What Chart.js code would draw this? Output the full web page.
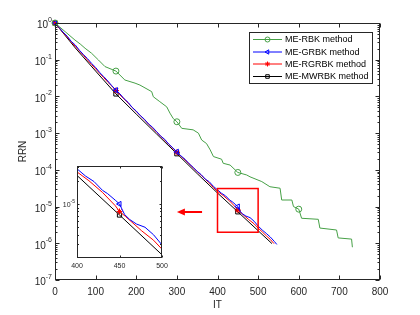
<!DOCTYPE html>
<html>
<head>
<meta charset="utf-8">
<script src="https://cdn.jsdelivr.net/npm/chart.js@4.4.1/dist/chart.umd.min.js"></script>
<style>
body { margin: 0; background: #fff; }
#wrap { position: relative; width: 420px; height: 315px; }
#main { position: absolute; left: 0; top: 0; }
#inset { position: absolute; left: 60px; top: 160px; }
</style>
</head>
<body>
<div id="wrap">
  <canvas id="main" width="420" height="315"></canvas>
  <canvas id="inset" width="110" height="115"></canvas>
</div>
<script>
// data (IT vs RRN)
const rbkIt = [0, 25, 49, 62, 74, 90, 107, 123, 150, 172, 197, 209, 238, 242, 258, 275, 283, 291, 300, 312, 340, 353, 361, 373, 382, 390, 410, 414, 431, 450, 472, 480, 509, 529, 554, 558, 583, 587, 600, 607, 648, 652, 693, 697, 730, 732]
const rbkRRN = [1, 0.58, 0.344, 0.268, 0.205, 0.150, 0.098, 0.065, 0.049, 0.028, 0.023, 0.0204, 0.0135, 0.0098, 0.0072, 0.0052, 0.0035, 0.0025, 0.00204, 0.00135, 0.00123, 0.00100, 0.00065, 0.00052, 0.00035, 0.00023, 1.95e-4, 1.51e-4, 1.35e-4, 8.5e-5, 7.24e-5, 6.46e-5, 4.79e-5, 3.47e-5, 3.16e-5, 1.51e-5, 1.51e-5, 1.0e-5, 8.5e-6, 4.8e-6, 4.5e-6, 2.6e-6, 2.3e-6, 1.4e-6, 1.3e-6, 7.8e-7]

const grbkIt = [0, 10, 20, 30, 40, 50, 60, 70, 80, 90, 100, 110, 120, 130, 140, 150, 160, 170, 180, 190, 200, 210, 220, 230, 240, 250, 260, 270, 280, 290, 300, 310, 320, 330, 340, 350, 360, 370, 380, 390, 400, 410, 420, 430, 436, 445, 450, 456, 462, 470, 480, 490, 500, 510, 520, 530, 540, 546]
const grbkRRN = [1, 0.759, 0.562, 0.437, 0.316, 0.251, 0.182, 0.138, 0.107, 0.0794, 0.0617, 0.0447, 0.0347, 0.0263, 0.0195, 0.0148, 0.0117, 0.0087, 0.0069, 0.0050, 0.0040, 0.0030, 0.0024, 0.00178, 0.00145, 0.0011, 8.3e-4, 6.8e-4, 5.0e-4, 4.0e-4, 3.1e-4, 2.4e-4, 1.95e-4, 1.48e-4, 1.17e-4, 9.1e-5, 7.4e-5, 5.6e-5, 4.7e-5, 3.55e-5, 2.85e-5, 2.3e-5, 1.95e-5, 1.5e-5, 1.36e-5, 1.12e-5, 1.0e-5, 7.3e-6, 6.3e-6, 5.5e-6, 5.0e-6, 4.0e-6, 2.95e-6, 2.3e-6, 1.86e-6, 1.48e-6, 1.12e-6, 9.3e-7]

const rgrbkIt = [0, 10, 20, 30, 40, 50, 60, 70, 80, 90, 100, 110, 120, 130, 140, 150, 160, 170, 180, 190, 200, 210, 220, 230, 240, 250, 260, 270, 280, 290, 300, 310, 320, 330, 340, 350, 360, 370, 380, 390, 400, 414, 430, 445, 450, 457, 476, 490, 500, 510, 520, 530, 539]
const rgrbkRRN = [1, 0.741, 0.55, 0.417, 0.309, 0.229, 0.174, 0.132, 0.0977, 0.0741, 0.0562, 0.0427, 0.0324, 0.0245, 0.0191, 0.0145, 0.011, 0.0085, 0.0066, 0.0050, 0.0039, 0.0030, 0.00234, 0.00178, 0.00138, 0.00107, 8.3e-4, 6.5e-4, 5.0e-4, 3.9e-4, 3.0e-4, 2.34e-4, 1.86e-4, 1.45e-4, 1.15e-4, 8.9e-5, 7.1e-5, 5.5e-5, 4.4e-5, 3.3e-5, 2.6e-5, 2.0e-5, 1.41e-5, 9.5e-6, 8.0e-6, 6.9e-6, 4.5e-6, 3.4e-6, 2.6e-6, 2.05e-6, 1.6e-6, 1.27e-6, 9.8e-7]

const mwrbkIt = [0, 50, 100, 150, 200, 250, 300, 350, 400, 450, 500, 534]
const mwrbkRRN = [1, 0.209, 0.049, 0.0117, 0.0033, 9.5e-4, 2.75e-4, 7.9e-5, 2.34e-5, 7.2e-6, 2.2e-6, 9.8e-7]

const markerIt = [0, 150, 300, 450, 600]
const labels = ['ME-RBK method', 'ME-GRBK method', 'ME-RGRBK method', 'ME-MWRBK method']

const xTicks = [0, 100, 200, 300, 400, 500, 600, 700, 800]
const yTicks = [1, 1e-1, 1e-2, 1e-3, 1e-4, 1e-5, 1e-6, 1e-7]
const yTickExp = ['0', '-1', '-2', '-3', '-4', '-5', '-6', '-7']

const insetXTicks = [400, 450, 500]
const insetYTicks = [1e-5]
const insetYTickExp = ['-5']
const zoomX = [400, 500]
const zoomY = [2e-6, 3.1e-5]
const arrowFrom = [362, 7e-6]
const arrowTo = [300, 7e-6]

const font = '"Liberation Sans", Arial, Helvetica, sans-serif'
const axisColor = '#262626'

const makeSets = (r, clip) => {
    const series = [
        { it: rbkIt, v: rbkRRN, color: 'rgb(70,160,70)', style: 'circle', rot: 0 },
        { it: grbkIt, v: grbkRRN, color: 'rgb(0,0,255)', style: 'triangle', rot: -90 },
        { it: rgrbkIt, v: rgrbkRRN, color: 'rgb(255,0,0)', style: 'star', rot: 0 },
        { it: mwrbkIt, v: mwrbkRRN, color: 'rgb(0,0,0)', style: 'rect', rot: 0 },
    ]
    return series.map((s, i) => ({
        label: labels[i],
        data: s.it.map((x, j) => ({ x: x, y: s.v[j] })),
        borderColor: s.color,
        borderWidth: 1,
        pointStyle: s.style,
        pointRotation: s.rot,
        pointBorderColor: s.color,
        pointBackgroundColor: 'rgba(0,0,0,0)',
        pointBorderWidth: 1,
        pointRadius: ctx => markerIt.includes(ctx.raw.x) ? r : 0,
        fill: false,
        tension: 0,
        clip: clip,
    }))
}

// box, inside ticks and tick labels, MATLAB style
const drawFrame = (chart, o) => {
    const { ctx, chartArea: a, scales: { x, y } } = chart
    const L = Math.round(a.left) + 0.5, R = Math.round(a.right) - 0.5
    const T = Math.round(a.top) + 0.5, B = Math.round(a.bottom) - 0.5
    ctx.save()
    ctx.strokeStyle = axisColor
    ctx.lineWidth = 1
    ctx.beginPath()
    o.xTicks.forEach(v => {
        const px = Math.round(x.getPixelForValue(v)) + 0.5
        ctx.moveTo(px, B); ctx.lineTo(px, B - o.tick)
        ctx.moveTo(px, T); ctx.lineTo(px, T + o.tick)
    })
    o.yTicks.forEach(v => {
        const py = Math.round(y.getPixelForValue(v)) + 0.5
        ctx.moveTo(L, py); ctx.lineTo(L + o.tick, py)
        ctx.moveTo(R, py); ctx.lineTo(R - o.tick, py)
    })
    if (o.minor) {
        for (let k = -7; k < 0; k++) {
            for (let m = 2; m <= 9; m++) {
                const v = m * Math.pow(10, k)
                if (v <= y.min || v >= y.max) continue
                const py = Math.round(y.getPixelForValue(v)) + 0.5
                ctx.moveTo(L, py); ctx.lineTo(L + o.minor, py)
                ctx.moveTo(R, py); ctx.lineTo(R - o.minor, py)
            }
        }
    }
    ctx.stroke()
    ctx.strokeRect(L, T, R - L, B - T)

    ctx.fillStyle = axisColor
    ctx.textAlign = 'center'
    ctx.textBaseline = 'middle'
    ctx.font = o.size + 'px ' + font
    o.xTicks.forEach(v => {
        ctx.fillText(String(v), x.getPixelForValue(v), a.bottom + o.xOff)
    })
    o.yTicks.forEach((v, i) => {
        const py = y.getPixelForValue(v)
        ctx.font = o.expSize + 'px ' + font
        const ew = ctx.measureText(o.yExp[i]).width
        ctx.textAlign = 'right'
        ctx.fillText(o.yExp[i], a.left - o.yGap, py - o.expRise)
        ctx.font = o.size + 'px ' + font
        ctx.fillText('10', a.left - o.yGap - ew, py + o.baseDrop)
    })
    ctx.restore()
}

const mainPlugin = {
    id: 'mainDeco',
    afterDatasetsDraw(chart) {
        const { ctx, scales: { x, y } } = chart
        ctx.save()
        // zoom rectangle
        const rx0 = x.getPixelForValue(zoomX[0]), rx1 = x.getPixelForValue(zoomX[1])
        const ry0 = y.getPixelForValue(zoomY[1]), ry1 = y.getPixelForValue(zoomY[0])
        ctx.strokeStyle = 'rgb(255,0,0)'
        ctx.lineWidth = 1.5
        ctx.strokeRect(rx0, ry0, rx1 - rx0, ry1 - ry0)
        // arrow to the inset
        const ax0 = x.getPixelForValue(arrowFrom[0]), ay = Math.round(y.getPixelForValue(arrowFrom[1]))
        const ax1 = x.getPixelForValue(arrowTo[0])
        ctx.lineWidth = 2
        ctx.beginPath()
        ctx.moveTo(ax0, ay); ctx.lineTo(ax1 + 6, ay)
        ctx.stroke()
        ctx.fillStyle = 'rgb(255,0,0)'
        ctx.beginPath()
        ctx.moveTo(ax1, ay); ctx.lineTo(ax1 + 8, ay - 3.5); ctx.lineTo(ax1 + 8, ay + 3.5)
        ctx.closePath()
        ctx.fill()
        ctx.restore()
    },
    afterDraw(chart) {
        drawFrame(chart, {
            xTicks: xTicks, yTicks: yTicks, yExp: yTickExp, tick: 4, minor: 2,
            size: 10, expSize: 7, xOff: 12, yGap: 3, expRise: 3, baseDrop: 2.5,
        })
        const { ctx, chartArea: a } = chart
        ctx.save()
        ctx.fillStyle = axisColor
        ctx.font = '10px ' + font
        ctx.textAlign = 'center'
        ctx.textBaseline = 'middle'
        ctx.fillText('IT', (a.left + a.right) / 2, a.bottom + 25)
        ctx.translate(23, (a.top + a.bottom) / 2)
        ctx.rotate(-Math.PI / 2)
        ctx.fillText('RRN', 0, 0)
        ctx.restore()

        // legend
        ctx.save()
        ctx.fillStyle = '#fff'
        ctx.fillRect(249, 32, 123, 51)
        ctx.strokeStyle = axisColor
        ctx.lineWidth = 1
        ctx.strokeRect(249.5, 32.5, 123, 51)
        const rows = [39.5, 52, 64, 76.5]
        chart.data.datasets.forEach((ds, i) => {
            const ry = rows[i]
            ctx.strokeStyle = ds.borderColor
            ctx.lineWidth = 1
            ctx.beginPath()
            ctx.moveTo(253, ry); ctx.lineTo(282, ry)
            ctx.stroke()
            ctx.fillStyle = 'rgba(0,0,0,0)'
            Chart.helpers.drawPoint(ctx, { pointStyle: ds.pointStyle, rotation: ds.pointRotation, radius: 2.5, borderWidth: 1 }, 267.5, ry)
            ctx.fillStyle = '#000'
            ctx.font = '9px ' + font
            ctx.textAlign = 'left'
            ctx.textBaseline = 'middle'
            ctx.fillText(ds.label, 285, ry + 0.5)
        })
        ctx.restore()
    }
}

const insetPlugin = {
    id: 'insetDeco',
    beforeDatasetsDraw(chart) {
        const { ctx, chartArea: a } = chart
        ctx.save()
        ctx.fillStyle = '#fff'
        ctx.fillRect(a.left, a.top, a.right - a.left, a.bottom - a.top)
        ctx.restore()
    },
    afterDraw(chart) {
        drawFrame(chart, {
            xTicks: insetXTicks, yTicks: insetYTicks, yExp: insetYTickExp, tick: 2, minor: 1.5,
            size: 7, expSize: 5, xOff: 8.5, yGap: 2, expRise: 2, baseDrop: 1.5,
        })
    }
}

const mainChart = new Chart(document.getElementById('main'), {
    type: 'line',
    data: { datasets: makeSets(3, false) },
    options: {
        responsive: false,
        animation: false,
        devicePixelRatio: 1,
        layout: { padding: { top: 23, right: 40, left: 0, bottom: 0 } },
        plugins: { legend: { display: false }, tooltip: { enabled: false } },
        scales: {
            x: {
                type: 'linear', min: 0, max: 800,
                ticks: { display: false },
                grid: { display: false, drawTicks: false },
                border: { display: false },
                afterFit: s => { s.height = 35 },
            },
            y: {
                type: 'logarithmic', min: 1e-7, max: 1,
                ticks: { display: false },
                grid: { display: false, drawTicks: false },
                border: { display: false },
                afterFit: s => { s.width = 55 },
            }
        }
    },
    plugins: [mainPlugin]
})

const insetChart = new Chart(document.getElementById('inset'), {
    type: 'line',
    data: { datasets: makeSets(3, true) },
    options: {
        responsive: false,
        animation: false,
        devicePixelRatio: 1,
        layout: { padding: { top: 6, right: 8, left: 0, bottom: 0 } },
        plugins: { legend: { display: false }, tooltip: { enabled: false } },
        scales: {
            x: {
                type: 'linear', min: 400, max: 500,
                ticks: { display: false },
                grid: { display: false, drawTicks: false },
                border: { display: false },
                afterFit: s => { s.height = 17 },
            },
            y: {
                type: 'logarithmic', min: zoomY[0], max: zoomY[1],
                ticks: { display: false },
                grid: { display: false, drawTicks: false },
                border: { display: false },
                afterFit: s => { s.width = 17 },
            }
        }
    },
    plugins: [insetPlugin]
})
</script>
</body>
</html>
